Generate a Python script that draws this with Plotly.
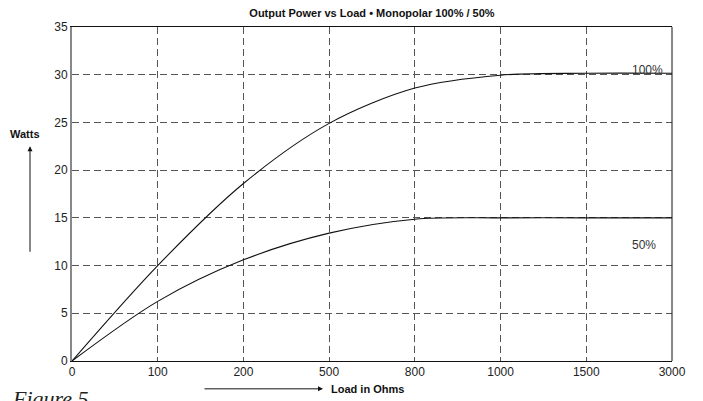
import plotly.graph_objects as go

loads = ["0", "100", "200", "500", "800", "1000", "1500", "3000"]
watts_100 = [0, 10.0, 18.6, 24.9, 28.6, 29.95, 30.15, 30.15]
watts_50 = [0, 6.25, 10.6, 13.4, 14.86, 15.0, 15.0, 15.0]
y_ticks = [0, 5, 10, 15, 20, 25, 30, 35]

idx = list(range(len(loads)))
FONT = "Liberation Sans, Arial, sans-serif"

# page body has an 8px margin, so figure is sized/offset to compensate
W, H = 695, 393
ML, MT, MR, MB = 64, 17, 31, 40

fig = go.Figure()
for vals in (watts_100, watts_50):
    fig.add_trace(go.Scatter(x=idx, y=vals, mode="lines",
                             line=dict(color="#111", width=1.1, shape="spline", smoothing=0.9),
                             showlegend=False, hoverinfo="skip"))

fig.update_layout(
    width=W, height=H,
    margin=dict(l=ML, r=MR, t=MT, b=MB),
    paper_bgcolor="white", plot_bgcolor="white",
    font=dict(family=FONT, size=12, color="#222"),
    title=dict(text="<b>Output Power vs Load • Monopolar 100% / 50%</b>",
               x=(ML + 300) / W, xanchor="center", y=1 - 5 / H, yanchor="middle",
               font=dict(size=11, color="#111")),
)
fig.update_xaxes(range=[0, 7], tickmode="array", tickvals=idx, ticktext=loads,
                 showgrid=True, gridcolor="#555", gridwidth=1, griddash="7px,4px",
                 showline=True, linecolor="#111", linewidth=1, mirror=True,
                 ticks="", zeroline=False, tickfont=dict(size=12, color="#222"))
fig.update_yaxes(range=[0, 35], tickmode="array", tickvals=y_ticks,
                 showgrid=True, gridcolor="#555", gridwidth=1, griddash="7px,4px",
                 showline=True, linecolor="#888", linewidth=2,
                 ticks="", zeroline=False, tickfont=dict(size=12, color="#222"))

# right border
fig.add_shape(type="line", xref="paper", yref="paper", x0=1, x1=1, y0=0, y1=1,
              line=dict(color="#111", width=1))

# Curve labels
fig.add_annotation(x=6.71, y=30.45, text="100%", showarrow=False,
                   font=dict(size=12, color="#333"))
fig.add_annotation(x=6.67, y=12.2, text="50%", showarrow=False,
                   font=dict(size=12, color="#333"))

# Y axis label and arrow (positions relative to plot area: left 72, top 25, 600x336)
fig.add_annotation(xref="paper", yref="paper", x=(25 - 72) / 600, y=(361 - 133) / 336,
                   text="<b>Watts</b>", showarrow=False, xanchor="center", yanchor="middle",
                   font=dict(size=11, color="#111"))
fig.add_annotation(xref="paper", yref="paper", x=(30 - 72) / 600, y=(361 - 145) / 336,
                   text="", showarrow=True, ax=0, ay=107, arrowhead=2, arrowsize=1,
                   arrowwidth=1, arrowcolor="#111")

# X axis label and arrow
fig.add_annotation(xref="paper", yref="paper", x=(323 - 72) / 600, y=(361 - 389) / 336,
                   text="", showarrow=True, ax=-120, ay=0, arrowhead=2, arrowsize=1,
                   arrowwidth=1, arrowcolor="#111")
fig.add_annotation(xref="paper", yref="paper", x=(329 - 72) / 600, y=(361 - 389) / 336,
                   text="<b>Load in Ohms</b>", showarrow=False, xanchor="left", yanchor="middle",
                   font=dict(size=11, color="#111"))

# Figure caption (cut off at bottom, as in the source)
fig.add_annotation(xref="paper", yref="paper", x=(10 - 72) / 600, y=(361 - 384) / 336,
                   text="<i>Figure 5</i>", showarrow=False, xanchor="left", yanchor="top",
                   font=dict(family="Liberation Serif, DejaVu Serif, serif", size=22, color="#222"))

fig.write_html("out.html")
